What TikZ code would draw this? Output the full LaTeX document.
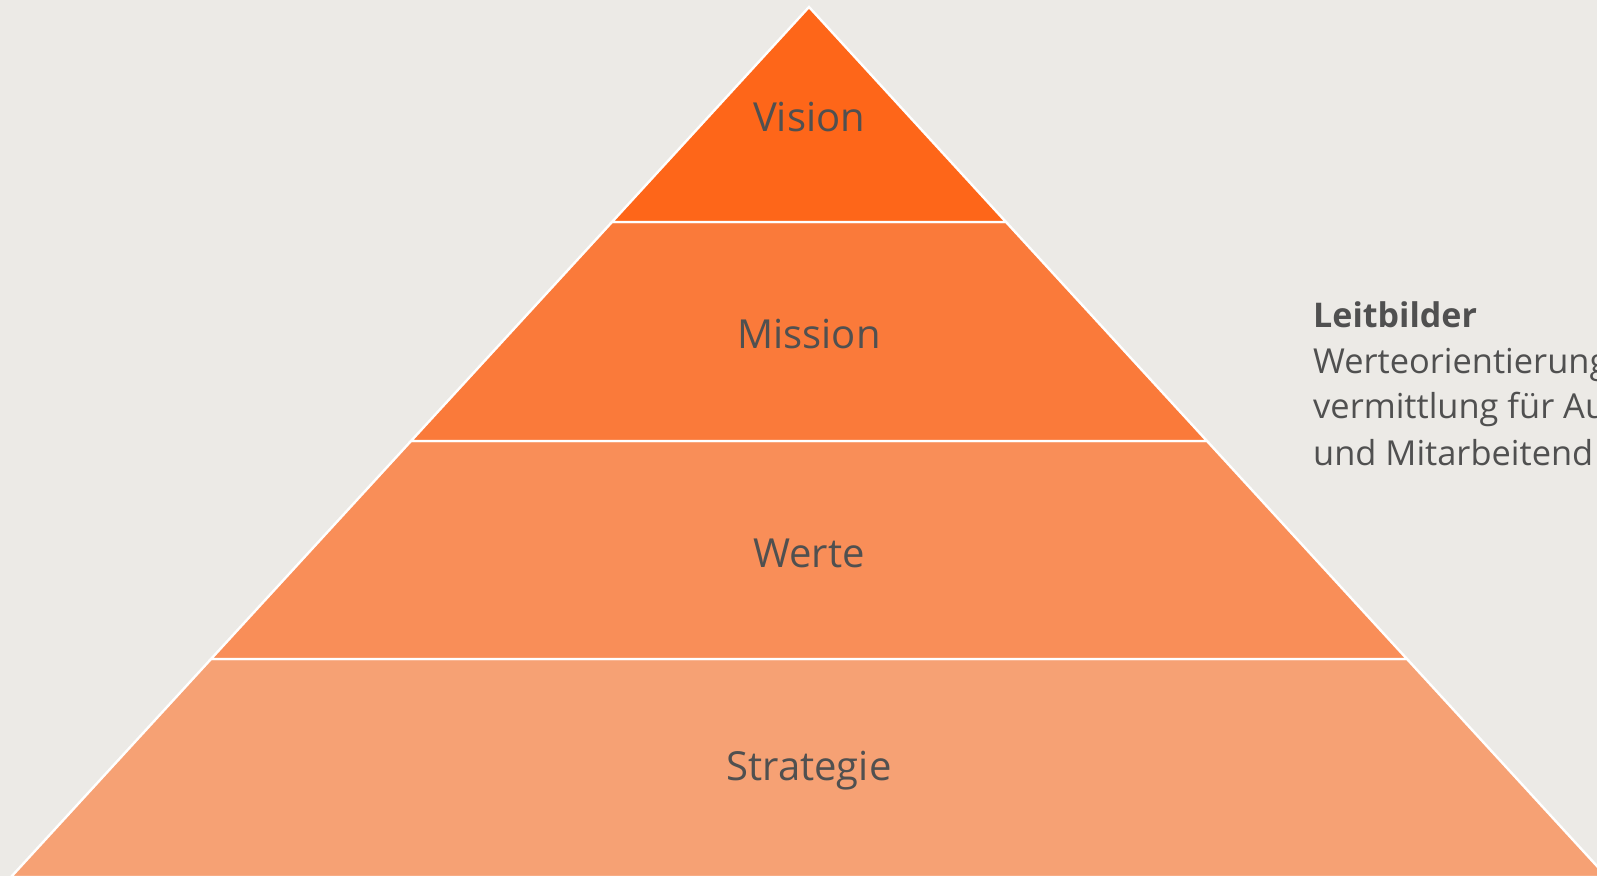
\documentclass[tikz,border=0pt]{standalone}
\usepackage{fontspec}
\setmainfont{Open Sans}
\definecolor{bg}{RGB}{236,234,230}
\definecolor{cVision}{RGB}{254,102,25}
\definecolor{cMission}{RGB}{250,122,58}
\definecolor{cWerte}{RGB}{249,142,88}
\definecolor{cStrat}{RGB}{246,161,116}
\definecolor{txt}{RGB}{80,80,80}
\begin{document}
\begin{tikzpicture}[x=1pt,y=-1pt,
  band/.style={draw=white,line width=2.4pt,line join=miter},
  lvl/.style={text=txt,font=\fontsize{40}{48}\selectfont,anchor=base,inner sep=0pt},
  side/.style={text=txt,font=\fontsize{34.4}{45}\selectfont,anchor=base west,inner sep=0pt}]
\useasboundingbox (0,0) rectangle (1597,876);
\clip (0,0) rectangle (1597,876);
\fill[bg] (0,0) rectangle (1597,876);
% apex (809,7), half-width = 0.918*(y-7)
\coordinate (apex) at (809,7);
\fill[cStrat,band] (211,659) -- (1407,659) -- (1607,877) -- (11,877) -- cycle;
\fill[cWerte,band] (411,441) -- (1207,441) -- (1407,659) -- (211,659) -- cycle;
\fill[cMission,band] (612,222) -- (1006,222) -- (1207,441) -- (411,441) -- cycle;
\fill[cVision,band] (apex) -- (1006,222) -- (612,222) -- cycle;
\node[lvl] (vision) at (809,131) {Vision};
\node[lvl] (mission) at (809,348) {Mission};
\node[lvl] (werte) at (809,567) {Werte};
\node[lvl] (strategie) at (809,780) {Strategie};
\node[side,font=\fontsize{34}{45}\bfseries\selectfont] (leit) at (1313,327) {Leitbilder};
\node[side] (l1) at (1313,373) {Werteorientierung};
\node[side] (l2) at (1313,418) {vermittlung für Au};
\node[side] (l3) at (1313,465) {und Mitarbeitend};
\end{tikzpicture}
\end{document}
